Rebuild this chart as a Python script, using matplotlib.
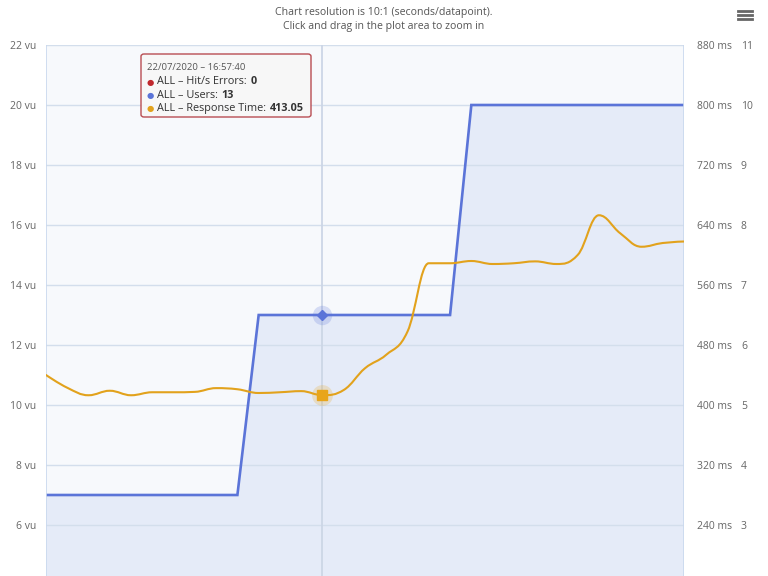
import numpy as np
import matplotlib
matplotlib.use('Agg')
import matplotlib.pyplot as plt
from matplotlib.path import Path
from matplotlib.patches import PathPatch, FancyBboxPatch
from matplotlib.lines import Line2D

plt.rcParams['font.family'] = ['Open Sans', 'DejaVu Sans']

# Data (one point every 10 s, crosshair at 16:57:40)
idx = np.arange(31)
users = [7] * 10 + [13] * 10 + [20] * 11
response_ms = [440, 423, 413, 419, 413, 417, 417, 417.5, 422.5, 421,
               416, 417, 418.5, 413.05, 420, 449, 467, 498, 589, 589,
               592, 588, 589, 591.5, 588, 600, 653, 629, 611, 616, 618]
errors = [0] * 31

vu_ticks = [6, 8, 10, 12, 14, 16, 18, 20, 22]
ms_ticks = [240, 320, 400, 480, 560, 640, 720, 800, 880]
err_ticks = [3, 4, 5, 6, 7, 8, 9, 10, 11]
hover = 13
hover_time = '22/07/2020 – 16:57:40'

W, H = 768, 576
fig = plt.figure(figsize=(W / 100, H / 100), dpi=100)
fig.set_facecolor('white')


def fx(x):
    return x / W


def fy(y):
    return 1 - y / H


def spline_path(xs, ys, smoothing=1.5):
    # Highcharts-style spline: control points around each point,
    # clamped so the curve does not overshoot local extremes
    n = len(xs)
    lc = [None] * n
    rc = [None] * n
    denom = smoothing + 1
    for i in range(1, n - 1):
        px, py = xs[i], ys[i]
        lx, ly = xs[i - 1], ys[i - 1]
        nx, ny = xs[i + 1], ys[i + 1]
        lcx = (smoothing * px + lx) / denom
        lcy = (smoothing * py + ly) / denom
        rcx = (smoothing * px + nx) / denom
        rcy = (smoothing * py + ny) / denom
        corr = (rcy - lcy) * (rcx - px) / (rcx - lcx) + py - rcy
        lcy += corr
        rcy += corr
        if lcy > ly and lcy > py:
            lcy = max(ly, py)
            rcy = 2 * py - lcy
        elif lcy < ly and lcy < py:
            lcy = min(ly, py)
            rcy = 2 * py - lcy
        if rcy > ny and rcy > py:
            rcy = max(ny, py)
            lcy = 2 * py - rcy
        elif rcy < ny and rcy < py:
            rcy = min(ny, py)
            lcy = 2 * py - rcy
        lc[i] = (lcx, lcy)
        rc[i] = (rcx, rcy)
    verts = [(xs[0], ys[0])]
    codes = [Path.MOVETO]
    for i in range(1, n):
        c1 = rc[i - 1] or (xs[i - 1], ys[i - 1])
        c2 = lc[i] or (xs[i], ys[i])
        verts += [c1, c2, (xs[i], ys[i])]
        codes += [Path.CURVE4] * 3
    return Path(verts, codes)


ax = fig.add_axes([fx(46), 0, fx(684) - fx(46), fy(45)])
ax.set_facecolor('#f7f9fc')
ax.set_xlim(0, 30)
ax.set_ylim(4.3, 22)

ax2 = ax.twinx()
ax2.set_ylim(4.3 * 40, 880)
ax3 = ax.twinx()
ax3.set_ylim(4.3 / 2, 11)
ax3.plot(idx, errors, color='#c0282d', lw=1.5)

# Users (area)
ax.fill_between(idx, users, 0, color='#e5ebf8', zorder=1, lw=0)
ax.plot(idx, users, color='#5b74d8', lw=1.9, zorder=3, solid_joinstyle='miter')

# Grid
ax.set_yticks(vu_ticks)
ax.set_yticklabels(['{} vu'.format(v) for v in vu_ticks])
ax.grid(axis='y', color='#d3deec', lw=1)
ax.set_axisbelow('line')
ax.set_xticks([])

# Crosshair
ax.axvline(hover, color='#ccd6e6', lw=1.3, zorder=2.5)

# Response time (spline)
ax2.add_patch(PathPatch(spline_path(idx.astype(float),
                                    np.array(response_ms, dtype=float)),
                        fill=False, edgecolor='#e2a21c', lw=1.5, zorder=3,
                        capstyle='round'))

# Hover markers
ax.plot([hover], [users[hover]], 'o', ms=14, color='#5b74d8', alpha=0.22,
        mec='none', zorder=4)
ax.plot([hover], [users[hover]], 'D', ms=5, color='#5b74d8', zorder=5)
ax2.plot([hover], [response_ms[hover]], 'o', ms=15, color='#e8a51b',
         alpha=0.22, mec='none', zorder=4)
ax2.plot([hover], [response_ms[hover]], 's', ms=7.5, color='#e8a51b', zorder=5)

# Axis styling
for a in (ax, ax2, ax3):
    for s in a.spines.values():
        s.set_visible(False)
    a.tick_params(length=0)
ax.tick_params(axis='y', labelsize=7.5, labelcolor='#666666', pad=7)
ax2.set_yticks(ms_ticks)
ax2.set_yticklabels(['{} ms'.format(v) for v in ms_ticks])
ax2.tick_params(axis='y', labelsize=7.5, labelcolor='#666666', pad=9.5)
ax3.set_yticks(err_ticks)
ax3.set_yticklabels([str(v) for v in err_ticks])
ax3.tick_params(axis='y', labelsize=7.5, labelcolor='#666666', pad=41)
for a in (ax2, ax3):
    for lab in a.get_yticklabels():
        lab.set_horizontalalignment('left')
ax.axvline(0, color='#c9d8ee', lw=1.2, zorder=6)
ax.axvline(30, color='#c9d8ee', lw=1.2, zorder=6)

# Title
fig.text(0.5, fy(13), 'Chart resolution is 10:1 (seconds/datapoint).',
         ha='center', va='center', fontsize=7.6, color='#555555')
fig.text(0.5, fy(26), 'Click and drag in the plot area to zoom in',
         ha='center', va='center', fontsize=7.6, color='#555555')

# Menu icon
for yy in (11, 15, 19):
    fig.add_artist(Line2D([fx(738), fx(752)], [fy(yy), fy(yy)],
                          color='#666666', lw=2))

# Tooltip
box = FancyBboxPatch((fx(141), fy(117)), fx(311) - fx(141), fy(54) - fy(117),
                     boxstyle='round,pad=0,rounding_size=0.004',
                     transform=fig.transFigure, facecolor='#f7f7f7',
                     edgecolor='#b5444a', lw=1, alpha=0.95, zorder=10)
fig.add_artist(box)
fig.text(fx(147), fy(68), hover_time, fontsize=6.8, color='#555555',
         va='center', zorder=11)
rows = [('#c0282d', 'ALL – Hit/s Errors: ', '0'),
        ('#5b74d8', 'ALL – Users: ', '13'),
        ('#e2a21c', 'ALL – Response Time: ', '413.05')]
renderer = fig.canvas.get_renderer()
for k, (col, lab, val) in enumerate(rows):
    yy = fy(82 + 13.3 * k)
    fig.text(fx(147), yy, '●', fontsize=6, color=col, va='center',
             family='DejaVu Sans', zorder=11)
    t = fig.text(fx(157), yy, lab, fontsize=7.8, color='#333333',
                 va='center', zorder=11)
    bb = t.get_window_extent(renderer)
    fig.text(bb.x1 / W + fx(1), yy, val, fontsize=7.8, color='#333333',
             fontweight='bold', va='center', zorder=11)

fig.savefig('out.png', dpi=100, facecolor='white')
